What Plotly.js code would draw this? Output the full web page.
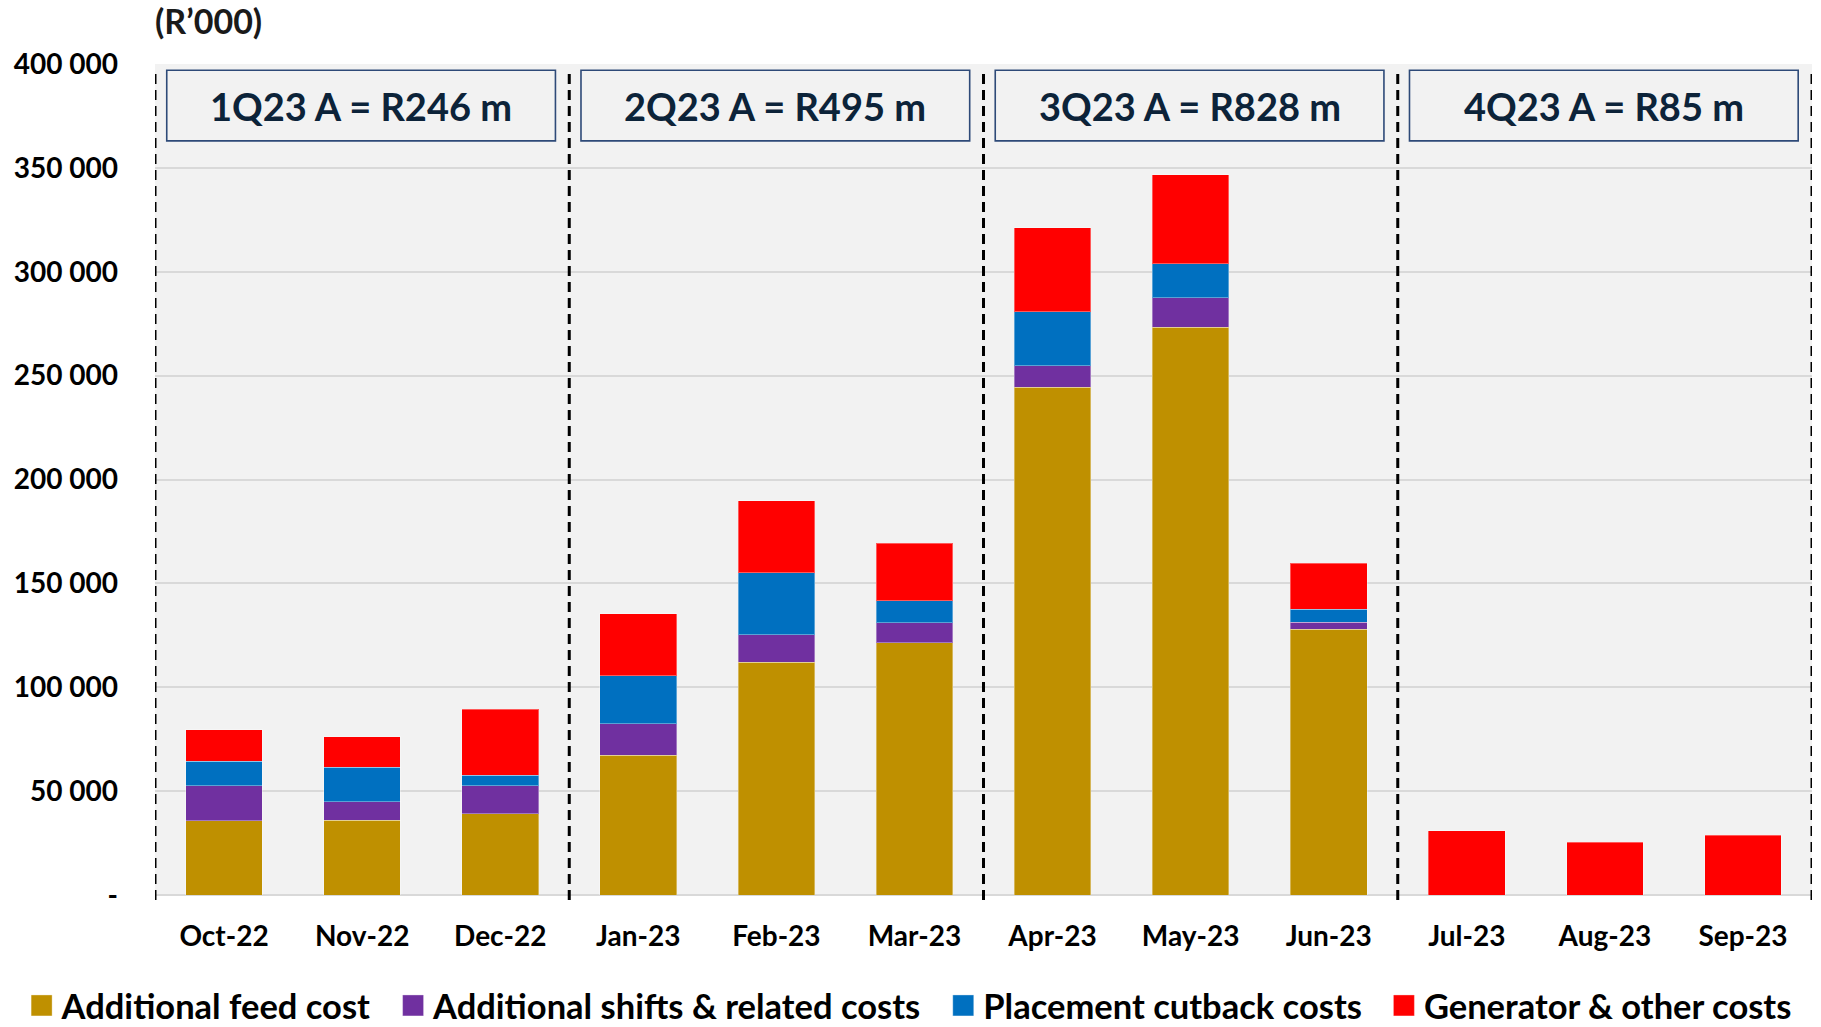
<!DOCTYPE html>
<html>
<head>
<meta charset="utf-8">
<script src="https://cdn.plot.ly/plotly-3.0.1.min.js"></script>
<style>
  html, body { margin: 0; padding: 0; background: #ffffff; }
  #chart { width: 1821px; height: 1027px; }
</style>
</head>
<body>
<div id="chart"></div>
<script>
// ---- data ----
const months = ["Oct-22","Nov-22","Dec-22","Jan-23","Feb-23","Mar-23","Apr-23","May-23","Jun-23","Jul-23","Aug-23","Sep-23"];
const feedCost      = [35800, 36100, 39100, 67300, 112000, 121500, 244400, 273200, 128000, 0, 0, 0];
const shiftsCost    = [16900,  8900, 13600, 15100,  13300,   9500,  10300,  14300,   3200, 0, 0, 0];
const placementCost = [11800, 16400,  5000, 23100,  29800,  10600,  26100,  16300,   6300, 0, 0, 0];
const generatorCost = [15000, 14700, 31600, 29800,  34600,  27600,  40500,  42900,  22300, 31000, 25500, 28700];
const seriesNames = ["Additional feed cost","Additional shifts & related costs","Placement cutback costs","Generator & other costs"];
const quarterLabels = ["1Q23","2Q23","3Q23","4Q23"];
const quarterTotals = [246, 495, 828, 85];
const yTickVals = [0, 50000, 100000, 150000, 200000, 250000, 300000, 350000, 400000];
const yTickText = ["-", "50 000", "100 000", "150 000", "200 000", "250 000", "300 000", "350 000", "400 000"];

// ---- styling ----
const colors = ["#BF9000", "#7030A0", "#0070C0", "#FF0000"];
const FONT = "Lato, 'Liberation Sans', Arial, sans-serif";
const monthsPerQuarter = 3;

const seriesValues = [feedCost, shiftsCost, placementCost, generatorCost];
const traces = seriesValues.map((vals, i) => ({
  type: "bar",
  name: seriesNames[i],
  x: months,
  y: vals,
  marker: { color: colors[i], line: { color: "rgba(255,255,255,0.35)", width: 1 } },
  hoverinfo: "x+y+name"
}));

const shapes = [];
const annotations = [];
// dashed separators
for (let q = 0; q <= quarterLabels.length; q++) {
  shapes.push({
    type: "line", xref: "x", yref: "paper",
    x0: q * monthsPerQuarter - 0.5, x1: q * monthsPerQuarter - 0.5,
    y0: -0.006, y1: 0.995,
    line: { color: "#000000", width: 3, dash: "10px,6px" },
    layer: "above"
  });
}
// quarter boxes
quarterLabels.forEach((ql, q) => {
  const x0 = q * monthsPerQuarter - 0.5 + 0.085;
  const x1 = q * monthsPerQuarter + monthsPerQuarter - 0.5 - 0.1;
  shapes.push({
    type: "rect", xref: "x", yref: "paper",
    x0: x0, x1: x1, y0: 0.9075, y1: 0.9925,
    fillcolor: "#F2F2F2",
    line: { color: "#2E4A78", width: 1.6 },
    layer: "above"
  });
  annotations.push({
    xref: "x", yref: "paper",
    x: (x0 + x1) / 2, y: 0.95,
    xanchor: "center", yanchor: "middle",
    text: ql + " A = R" + quarterTotals[q] + " m",
    showarrow: false,
    font: { family: FONT, size: 38, weight: 700, color: "#0C2339" }
  });
});

const layout = {
  width: 1821, height: 1027,
  margin: { l: 154.5, r: 9, t: 63.5, b: 131.5, autoexpand: false },
  paper_bgcolor: "#FFFFFF",
  plot_bgcolor: "#F2F2F2",
  barmode: "stack",
  bargap: 0.445,
  font: { family: FONT, color: "#000000" },
  title: {
    text: "(R’000)",
    xref: "paper", x: 0, xanchor: "left",
    yref: "container", y: 0.978, yanchor: "middle",
    font: { family: FONT, size: 34, weight: 700, color: "#1a1a1a" }
  },
  xaxis: {
    type: "category",
    range: [-0.5, 11.5],
    showgrid: false, zeroline: false, showline: false,
    ticks: "",
    ticklabelstandoff: 22,
    tickfont: { family: FONT, size: 28, weight: 700, color: "#000000" },
    fixedrange: true
  },
  yaxis: {
    range: [0, 400000],
    tickvals: yTickVals,
    ticktext: yTickText,
    showgrid: true, gridcolor: "#D9D9D9", gridwidth: 2,
    zeroline: true, zerolinecolor: "#D9D9D9", zerolinewidth: 2,
    showline: false, ticks: "",
    ticklabelstandoff: 36,
    tickfont: { family: FONT, size: 28, weight: 700, color: "#000000" },
    fixedrange: true
  },
  showlegend: true,
  legend: {
    orientation: "h",
    x: -0.0805, xanchor: "left",
    y: -0.133, yanchor: "middle",
    font: { family: FONT, size: 34.5, weight: 700, color: "#000000" },
    bgcolor: "rgba(0,0,0,0)",
    traceorder: "normal"
  },
  shapes: shapes,
  annotations: annotations
};

Plotly.newPlot("chart", traces, layout, { displayModeBar: false, staticPlot: true }).then(() => {
  const gd = document.getElementById("chart");
  // bigger square legend symbols
  gd.querySelectorAll(".legend .legendpoints path").forEach(p => {
    p.setAttribute("d", "M10.5,10.5H-10.5V-10.5H10.5Z");
  });
  // spread legend entries a little more
  const items = Array.from(gd.querySelectorAll(".legend .traces"));
  if (items.length) {
    const parse = t => {
      const m = /translate\(\s*([-\d.]+)[ ,]+([-\d.]+)\s*\)/.exec(t || "");
      return m ? [parseFloat(m[1]), parseFloat(m[2])] : [0, 0];
    };
    let [x] = parse(items[0].getAttribute("transform"));
    items.forEach((g) => {
      const [, yy] = parse(g.getAttribute("transform"));
      g.setAttribute("transform", "translate(" + x + "," + yy + ")");
      const txt = g.querySelector("text.legendtext");
      const tw = txt ? txt.getBBox().width : 0;
      x = x + 40 + tw + 22;
    });
    const scroll = gd.querySelector(".legend .scrollbox");
    if (scroll) scroll.removeAttribute("clip-path");
    gd.querySelectorAll("clipPath[id*='legend'] rect").forEach(r => {
      r.setAttribute("width", 3000);
      r.setAttribute("height", 200);
      r.setAttribute("y", -50);
    });
    const bg = gd.querySelector(".legend rect.bg");
    if (bg) bg.setAttribute("width", x + 20);
  }
});
</script>
</body>
</html>
